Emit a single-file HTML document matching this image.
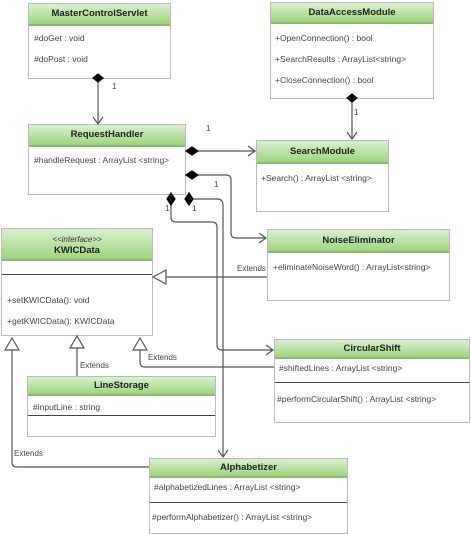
<!DOCTYPE html>
<html><head><style>
body{margin:0;width:471px;height:534px;background:#fff;position:relative;overflow:hidden;font-family:"Liberation Sans",sans-serif;}
.b{position:absolute;border:1px solid #bbb;background:#fff;box-sizing:border-box;}
.h{background:linear-gradient(#d9f0cf,#9ed47f);border-bottom:2px solid #8aba72;text-align:center;font-weight:bold;font-size:9.5px;color:#222;box-sizing:border-box;}
.t{position:absolute;font-size:8.5px;color:#444;white-space:nowrap;}
.l{position:absolute;font-size:8px;color:#444;}
.d{position:absolute;left:0;right:0;border-top:1px solid #444;}
</style></head><body>
<div class="b" style="left:28px;top:3px;width:143px;height:76px"><div class="h" style="height:22px;line-height:20px">MasterControlServlet</div>
<div class="t" style="left:5px;top:29px">#doGet : void</div><div class="t" style="left:5px;top:50px">#doPost : void</div></div>
<div class="b" style="left:28px;top:124px;width:158px;height:71px"><div class="h" style="height:22px;line-height:20px">RequestHandler</div>
<div class="t" style="left:5px;top:30px">#handleRequest : ArrayList &lt;string&gt;</div></div>
<div class="b" style="left:270px;top:2px;width:164px;height:97px"><div class="h" style="height:21px;line-height:19px">DataAccessModule</div>
<div class="t" style="left:4px;top:30px">+OpenConnection() : bool</div><div class="t" style="left:4px;top:51px">+SearchResults : ArrayList&lt;string&gt;</div><div class="t" style="left:4px;top:72px">+CloseConnection() : bool</div></div>
<div class="b" style="left:256px;top:140px;width:133px;height:72px"><div class="h" style="height:23px;line-height:21px">SearchModule</div>
<div class="t" style="left:4px;top:32px">+Search() : ArrayList &lt;string&gt;</div></div>
<div class="b" style="left:267px;top:229px;width:183px;height:72px"><div class="h" style="height:23px;line-height:21px">NoiseEliminator</div>
<div class="t" style="left:5px;top:32px">+eliminateNoiseWord() : ArrayList&lt;string&gt;</div></div>
<div class="b" style="left:1px;top:228px;width:152px;height:108px"><div class="h" style="height:32px;line-height:11px;padding-top:5px"><span style="font-weight:normal;font-style:italic;font-size:8px;color:#333">&lt;&lt;interface&gt;&gt;</span><br>KWICData</div>
<div class="d" style="top:45px"></div>
<div class="t" style="left:5px;top:66px">+setKWICData(): void</div><div class="t" style="left:5px;top:87px">+getKWICData(): KWICData</div></div>
<div class="b" style="left:274px;top:339px;width:196px;height:84px"><div class="h" style="height:19px;line-height:18px">CircularShift</div>
<div class="t" style="left:4px;top:23px">#shiftedLines : ArrayList &lt;string&gt;</div>
<div class="d" style="top:42px"></div>
<div class="t" style="left:2px;top:54px">#performCircularShift() : ArrayList &lt;string&gt;</div></div>
<div class="b" style="left:27px;top:376px;width:189px;height:61px"><div class="h" style="height:19px;line-height:18px">LineStorage</div>
<div class="t" style="left:5px;top:25px">#inputLine : string</div>
<div class="d" style="top:38px"></div></div>
<div class="b" style="left:149px;top:458px;width:199px;height:76px"><div class="h" style="height:19px;line-height:18px">Alphabetizer</div>
<div class="t" style="left:4px;top:23px">#alphabetizedLines : ArrayList &lt;string&gt;</div>
<div class="d" style="top:43px"></div>
<div class="t" style="left:2px;top:53px">#performAlphabetizer() : ArrayList &lt;string&gt;</div></div>
<svg width="471" height="534" style="position:absolute;left:0;top:0" fill="none" stroke="#555" stroke-width="1.2">
<path d="M98 80V123"/><path d="M93 117l5 7 5-7"/>
<polygon points="98,74 103,78 98,82 93,78" fill="#000" stroke="#000"/>
<path d="M186 151H255"/><path d="M248 146l7 5-7 5"/>
<polygon points="186,151 192,147 198,151 192,155" fill="#000" stroke="#000"/>
<path d="M186 175H226Q231 175 231 180V233Q231 238 236 238H266"/><path d="M259 233l7 5-7 5"/>
<polygon points="186,175 192,171 198,175 192,179" fill="#000" stroke="#000"/>
<path d="M171 199V217Q171 222 176 222H212Q217 222 217 227V345Q217 350 222 350H273"/><path d="M266 345l7 5-7 5"/>
<polygon points="171,193 175,199 171,205 167,199" fill="#000" stroke="#000"/>
<path d="M189 199H217Q223 199 223 205V457"/><path d="M218 450l5 7 5-7"/>
<polygon points="189,193 193,199 189,205 185,199" fill="#000" stroke="#000"/>
<path d="M352 100V139"/><path d="M347 132l5 7 5-7"/>
<polygon points="352,94 357,98 352,102 347,98" fill="#000" stroke="#000"/>
<path d="M267 277H165"/><polygon points="153,277 166,270 166,284" fill="#fff"/>
<path d="M77 376V348"/><polygon points="77,336 70,348 84,348" fill="#fff"/>
<path d="M274 367H145Q140 367 140 362V350"/><polygon points="140,338 133,350 147,350" fill="#fff"/>
<path d="M149 467H17Q12 467 12 462V350"/><polygon points="12,338 5,350 19,350" fill="#fff"/>
</svg>
<div class="l" style="left:112px;top:82px">1</div>
<div class="l" style="left:206px;top:124px">1</div>
<div class="l" style="left:214px;top:180px">1</div>
<div class="l" style="left:165px;top:204px">1</div>
<div class="l" style="left:192px;top:204px">1</div>
<div class="l" style="left:354px;top:108px">1</div>
<div class="l" style="left:237px;top:264px">Extends</div>
<div class="l" style="left:80px;top:361px">Extends</div>
<div class="l" style="left:148px;top:353px">Extends</div>
<div class="l" style="left:14px;top:449px">Extends</div>
</body></html>
